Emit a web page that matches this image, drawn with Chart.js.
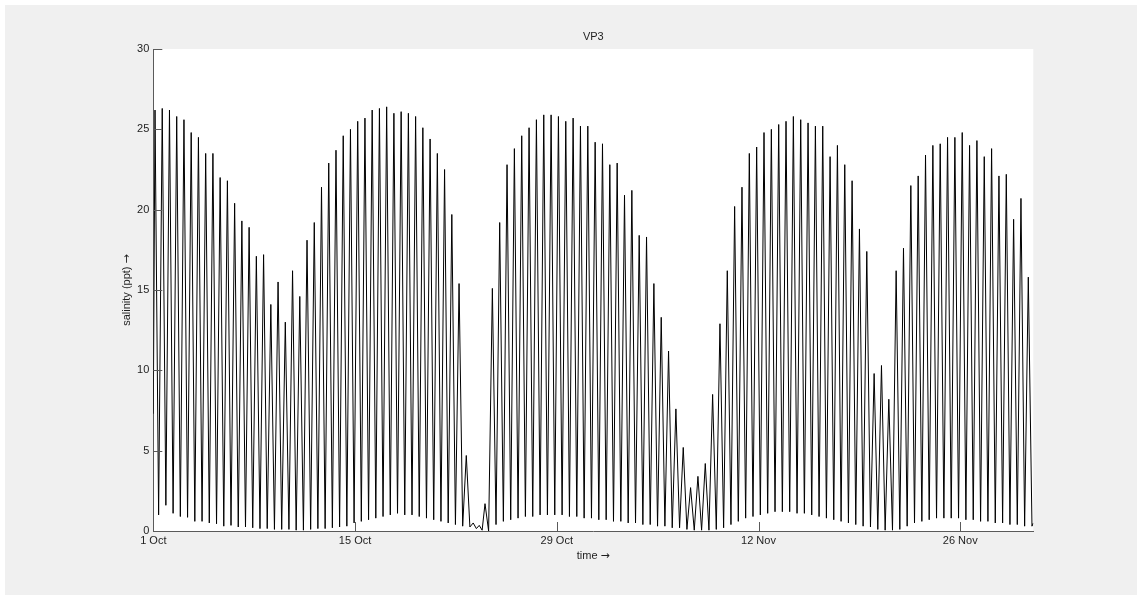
<!DOCTYPE html>
<html>
<head>
<meta charset="utf-8">
<script src="https://cdn.jsdelivr.net/npm/chart.js@4.4.1/dist/chart.umd.min.js"></script>
<style>
  html, body { margin: 0; padding: 0; background: #ffffff; }
  canvas { display: block; }
</style>
</head>
<body>
<canvas id="c" width="1142" height="595"></canvas>
<script>
// ---- data ----
const titleText = 'VP3';
const xAxisTitle = 'time';
const yAxisTitle = 'salinity (ppt)';
const arrowGlyph = '\u2192';
const tickDays = [0, 14, 28, 42, 56];
const tickLabels = ['1 Oct', '15 Oct', '29 Oct', '12 Nov', '26 Nov'];
const yTicks = [0, 5, 10, 15, 20, 25, 30];
const xMaxDay = 61.07;

const startDay = 0, startValue = 7.3;
// first run of tides (1 Oct - 22 Oct): time of first peak and tidal period (days)
const firstPeakDayA = 0.118, periodA = 0.5024;
const peaksA = [26.2,26.3,26.2,25.8,25.6,24.8,24.5,23.5,23.5,22.0,
                21.8,20.4,19.3,18.9,17.1,17.2,14.1,15.5,13.0,16.2,
                14.6,18.1,19.2,21.4,22.9,23.7,24.6,25.0,25.5,
                25.7,26.2,26.3,26.4,26.0,26.1,26.0,25.8,25.1,24.4,23.5,22.5,19.7,15.4,4.7];
const troughsA = [1.0,1.6,1.1,0.9,0.85,0.6,0.6,0.5,0.45,0.3,
                  0.35,0.25,0.25,0.2,0.15,0.15,0.1,0.1,0.1,0.05,
                  0.05,0.1,0.15,0.15,0.2,0.25,0.3,0.5,0.6,0.7,
                  0.8,0.9,1.0,1.1,1.0,1.0,0.9,0.8,0.7,0.6,
                  0.5,0.4,0.3];
// quiet stretch around 22-23 Oct
const gapDays   = [21.97,22.2,22.42,22.62,22.82,23.02,23.27];
const gapValues = [0.25,0.5,0.15,0.35,0.05,1.7,0.0];
// second run of tides (23 Oct - 1 Dec)
const firstPeakDayB = 23.53, periodB = 0.5095;
const peaksB = [15.1,19.2,22.8,23.8,24.6,25.1,25.6,25.9,25.9,25.8,
                25.5,25.7,25.2,25.2,24.2,24.1,22.8,22.9,20.9,21.2,
                18.4,18.3,15.4,13.3,11.2,7.6,5.2,2.7,3.4,4.2,
                8.5,12.9,16.2,20.2,21.4,23.5,23.9,24.8,25.0,25.3,
                25.5,25.8,25.6,25.4,25.2,25.2,23.3,24.0,22.8,21.8,
                18.8,17.4,9.8,10.3,8.2,16.2,17.6,21.5,22.1,23.4,
                24.0,24.1,24.5,24.5,24.8,24.0,24.3,23.3,23.8,22.1,
                22.2,19.4,20.7,15.8];
const troughsB = [0.4,0.6,0.7,0.8,0.9,0.9,1.0,1.0,1.0,1.0,
                  0.9,0.9,0.8,0.8,0.7,0.7,0.6,0.6,0.5,0.5,
                  0.4,0.4,0.3,0.3,0.2,0.2,0.1,0.05,0.05,0.05,
                  0.1,0.2,0.4,0.6,0.8,0.9,1.0,1.1,1.2,1.2,
                  1.2,1.1,1.1,1.0,0.9,0.8,0.7,0.6,0.5,0.4,
                  0.3,0.25,0.1,0.05,0.05,0.1,0.3,0.5,0.6,0.7,
                  0.8,0.8,0.8,0.8,0.7,0.7,0.6,0.6,0.5,0.5,
                  0.4,0.4,0.3,0.3];
const endDay = 61.07, endValue = 0.5;

// ---- build the series (time in days since 1 Oct) ----
const pts = [{x: startDay, y: startValue}];
function addRun(t0, period, peaks, troughs) {
  for (let i = 0; i < peaks.length; i++) {
    pts.push({x: t0 + i * period, y: peaks[i]});
    if (i < troughs.length) pts.push({x: t0 + (i + 0.5) * period, y: troughs[i]});
  }
}
addRun(firstPeakDayA, periodA, peaksA, troughsA);
gapDays.forEach((d, i) => pts.push({x: d, y: gapValues[i]}));
addRun(firstPeakDayB, periodB, peaksB, troughsB);
pts.push({x: endDay, y: endValue});

// ---- layout ----
const AREA = {left: 153.3, top: 49, right: 1033.3, bottom: 531};
const W = 1142, H = 595;
const FONT = '"Liberation Sans", Arial, Helvetica, sans-serif';
const ARROW_FONT = '"DejaVu Sans", sans-serif';
const AXIS_COLOR = '#5a5a5a';
const TEXT_COLOR = '#1e1e1e';

function drawWithArrow(ctx, text, cx, cy) {
  ctx.font = '11px ' + FONT;
  const w1 = ctx.measureText(text + ' ').width;
  ctx.font = '11px ' + ARROW_FONT;
  const w2 = ctx.measureText(arrowGlyph).width;
  const x0 = cx - (w1 + w2) / 2;
  ctx.textAlign = 'left';
  ctx.textBaseline = 'middle';
  ctx.font = '11px ' + FONT;
  ctx.fillText(text + ' ', x0, cy);
  ctx.font = '11px ' + ARROW_FONT;
  ctx.fillText(arrowGlyph, x0 + w1, cy);
}

const decor = {
  id: 'decor',
  beforeDraw(chart) {
    const ctx = chart.ctx, a = chart.chartArea;
    ctx.save();
    ctx.fillStyle = '#ffffff';
    ctx.fillRect(0, 0, W, H);
    ctx.fillStyle = '#f0f0f0';
    ctx.fillRect(5, 5, W - 10, H - 5);
    ctx.fillStyle = '#ffffff';
    ctx.fillRect(a.left, a.top, a.right - a.left, a.bottom - a.top);
    ctx.restore();
  },
  afterDraw(chart) {
    const ctx = chart.ctx, a = chart.chartArea;
    const xs = chart.scales.x, ys = chart.scales.y;
    ctx.save();
    // inward tick marks
    ctx.strokeStyle = AXIS_COLOR;
    ctx.lineWidth = 1;
    ctx.beginPath();
    ys.ticks.forEach(t => {
      const py = Math.round(ys.getPixelForValue(t.value)) + 0.5;
      ctx.moveTo(a.left, py); ctx.lineTo(a.left + 9, py);
    });
    xs.ticks.forEach(t => {
      const px = Math.round(xs.getPixelForValue(t.value)) + 0.5;
      ctx.moveTo(px, a.bottom); ctx.lineTo(px, a.bottom - 9);
    });
    ctx.stroke();
    // titles
    ctx.fillStyle = TEXT_COLOR;
    ctx.font = '11px ' + FONT;
    ctx.textAlign = 'center';
    ctx.textBaseline = 'middle';
    ctx.fillText(titleText, (a.left + a.right) / 2, 37);
    drawWithArrow(ctx, xAxisTitle, (a.left + a.right) / 2, 556);
    ctx.translate(127, (a.top + a.bottom) / 2);
    ctx.rotate(-Math.PI / 2);
    drawWithArrow(ctx, yAxisTitle, 0, 0);
    ctx.restore();
  }
};

new Chart(document.getElementById('c'), {
  type: 'line',
  data: {
    datasets: [{
      data: pts,
      borderColor: '#000000',
      borderWidth: 1,
      pointRadius: 0,
      tension: 0,
      fill: false
    }]
  },
  options: {
    responsive: false,
    devicePixelRatio: 1,
    animation: false,
    parsing: false,
    layout: {padding: {left: 0, top: AREA.top, right: W - AREA.right, bottom: 0}},
    plugins: {legend: {display: false}, tooltip: {enabled: false}, title: {display: false}},
    scales: {
      x: {
        type: 'linear',
        min: 0,
        max: xMaxDay,
        afterFit(s) { s.height = H - AREA.bottom; },
        afterBuildTicks(s) { s.ticks = tickDays.map(v => ({value: v})); },
        ticks: {
          callback(v) { const i = tickDays.indexOf(v); return i >= 0 ? tickLabels[i] : ''; },
          color: TEXT_COLOR,
          font: {family: FONT, size: 11},
          padding: 3,
          maxRotation: 0,
          autoSkip: false
        },
        grid: {display: false, drawTicks: false},
        border: {display: true, color: AXIS_COLOR, width: 1}
      },
      y: {
        type: 'linear',
        min: 0,
        max: 30,
        afterFit(s) { s.width = AREA.left; },
        afterBuildTicks(s) { s.ticks = yTicks.map(v => ({value: v})); },
        ticks: {
          color: TEXT_COLOR,
          font: {family: FONT, size: 11},
          padding: 4
        },
        grid: {display: false, drawTicks: false},
        border: {display: true, color: AXIS_COLOR, width: 1}
      }
    }
  },
  plugins: [decor]
});
</script>
</body>
</html>
